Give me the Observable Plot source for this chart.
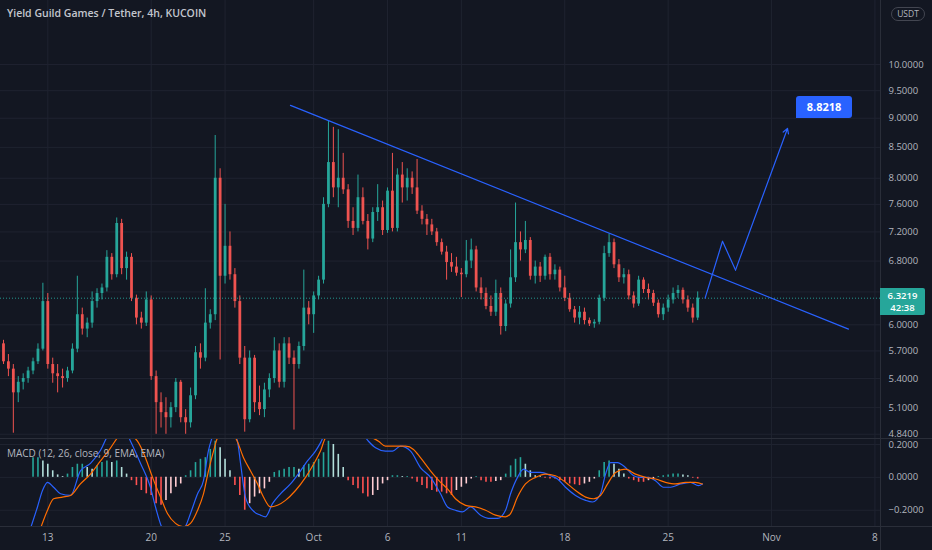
<!DOCTYPE html>
<html><head><meta charset="utf-8">
<script src="https://cdn.jsdelivr.net/npm/d3@7"></script>
<script src="https://cdn.jsdelivr.net/npm/@observablehq/plot@0.6"></script>
<style>
html,body{margin:0;padding:0;background:#131722;}
#chart{position:relative;width:932px;height:550px;background:#131722;overflow:hidden;font-family:"Open Sans",sans-serif;}
#price,#macd{position:absolute;left:0;width:932px;}
#price{top:0;}
#macd{top:438px;}
.ov{position:absolute;}
#title{left:7px;top:6px;font-size:10.5px;font-weight:600;color:#c3c6ce;white-space:nowrap;}
#macdlab{left:7px;top:446px;font-size:10px;color:#b2b5be;white-space:nowrap;}
#usdt{left:891px;top:7px;width:32px;height:12px;border:1px solid #434651;border-radius:7px;font-size:8.5px;color:#b2b5be;text-align:center;line-height:12px;}
#vsep{left:880px;top:0;width:1px;height:550px;background:#2a2e39;}
#hsep{left:0;top:438px;width:932px;height:1px;background:#2a2e39;}
#bsep{left:0;top:526px;width:932px;height:1px;background:#2a2e39;}
#tag{left:880px;width:45px;height:27px;background:#26a69a;color:#fff;font-size:9.5px;font-weight:600;text-align:center;line-height:12px;padding-top:2px;box-sizing:border-box;border-radius:0 2px 2px 0;}
#callout{background:#2962ff;color:#fff;font-size:11px;font-weight:700;text-align:center;line-height:22px;height:22px;width:56px;border-radius:3px;}
</style></head>
<body>
<div id="chart">
  <div id="price"></div>
  <div id="macd"></div>
  <div class="ov" id="vsep"></div>
  <div class="ov" id="hsep"></div>
  <div class="ov" id="bsep"></div>
  <div class="ov" id="title">Yield Guild Games / Tether, 4h, KUCOIN</div>
  <div class="ov" id="macdlab">MACD (12, 26, close, 9, EMA, EMA)</div>
  <div class="ov" id="usdt">USDT</div>
</div>
<script>
// ---------- data ----------
const firstOpen = 5.78;
const close = [5.58,5.50,5.25,5.36,5.40,5.48,5.58,5.72,6.28,5.55,
5.45,5.42,5.40,5.48,5.72,6.12,5.95,6.02,6.28,6.38,
6.45,6.85,6.62,7.32,6.70,6.85,6.32,6.08,6.02,6.30,
5.42,5.15,5.05,5.00,5.10,5.36,5.00,4.95,5.22,5.68,
5.62,6.02,6.12,8.00,6.60,7.00,6.62,6.28,5.62,4.98,
5.62,5.15,5.08,5.28,5.40,5.70,5.36,5.78,5.62,5.55,
5.75,6.20,6.12,6.35,6.55,7.60,8.25,7.85,8.00,7.82,
7.35,7.25,7.70,7.35,7.10,7.48,7.55,7.22,7.80,7.25,
8.05,7.85,8.00,7.85,7.50,7.38,7.30,7.20,7.05,6.92,
6.78,6.72,6.64,6.62,6.80,6.95,6.45,6.38,6.22,6.15,
6.38,5.98,6.25,6.58,7.05,6.95,7.08,6.60,6.72,6.60,
6.85,6.62,6.68,6.45,6.32,6.18,6.08,6.15,6.05,6.01,
6.03,6.32,6.90,7.05,6.75,6.58,6.62,6.35,6.25,6.55,
6.43,6.38,6.26,6.12,6.20,6.30,6.38,6.42,6.30,6.20,
6.08,6.3219];
const high = [5.82,5.66,5.55,5.42,5.45,5.52,5.62,5.78,6.51,6.38,
5.62,5.55,5.50,5.52,5.78,6.60,6.20,6.08,6.40,6.44,
6.50,6.94,6.90,7.40,7.38,6.92,6.90,6.36,6.15,6.40,
6.35,5.48,5.25,5.20,5.15,5.40,5.38,5.08,5.30,5.75,
5.78,6.44,6.18,8.70,8.15,7.60,7.20,6.70,6.35,5.75,
5.70,5.65,5.32,5.35,5.45,5.85,5.78,5.85,5.85,5.70,
5.80,6.68,6.28,6.40,6.60,7.70,8.95,8.84,8.80,8.40,
7.90,7.55,8.05,7.85,7.45,7.55,7.90,7.65,7.85,8.40,
8.15,8.25,8.15,8.10,8.30,7.58,7.45,7.38,7.25,7.10,
7.00,6.90,6.85,6.70,7.08,7.10,7.00,6.58,6.45,6.35,
6.55,6.45,6.30,6.95,7.62,7.20,7.35,7.12,6.80,6.78,
6.88,6.90,6.75,6.72,6.60,6.38,6.22,6.22,6.20,6.08,
6.06,6.36,7.00,7.17,7.10,6.82,6.70,6.68,6.40,6.60,
6.58,6.50,6.42,6.30,6.25,6.36,6.45,6.48,6.45,6.35,
6.25,6.40];
const low = [5.55,5.42,4.85,5.15,5.28,5.35,5.44,5.55,5.70,5.50,
5.35,5.25,5.30,5.36,5.45,5.68,5.88,5.85,5.96,6.20,
6.30,6.40,6.55,6.58,6.62,6.55,6.28,6.00,5.95,5.98,
5.38,4.84,4.90,4.84,4.90,5.05,4.95,4.84,4.90,5.18,
5.50,5.58,5.95,6.05,5.60,6.50,6.55,6.20,5.55,4.86,
4.95,5.05,5.02,5.00,5.20,5.35,5.30,5.30,5.55,4.88,
5.50,5.70,6.00,5.90,6.30,6.50,7.55,7.70,7.55,7.75,
7.25,7.15,7.20,7.30,6.95,7.05,7.35,7.15,7.18,7.20,
7.20,7.62,7.65,7.75,7.45,7.30,7.15,7.15,7.00,6.88,
6.55,6.65,6.60,6.33,6.58,6.70,6.40,6.30,6.18,6.10,
6.10,5.88,5.92,6.20,6.52,6.80,6.90,6.55,6.50,6.52,
6.55,6.55,6.55,6.40,6.28,6.15,6.02,6.00,6.00,5.98,
5.96,6.00,6.28,6.85,6.70,6.52,6.50,6.30,6.20,6.22,
6.38,6.30,6.22,6.08,6.05,6.15,6.25,6.32,6.25,6.15,
6.02,6.05];
const hist = [null,null,null,null,null,null,0.12,0.12,0.10,0.08,
0.04,0.015,0.005,0.02,0.06,0.08,0.08,0.06,0.05,0.07,
0.09,0.10,0.09,0.10,0.06,0.02,-0.02,-0.05,-0.08,-0.10,
-0.11,-0.16,-0.17,-0.14,-0.10,-0.06,-0.04,0.01,0.04,0.09,
0.11,0.12,0.17,0.22,0.18,0.11,0.04,-0.05,-0.11,-0.20,
-0.16,-0.12,-0.10,-0.07,-0.03,0.03,0.04,0.05,0.06,0.06,
0.05,0.07,0.08,0.09,0.11,0.15,0.22,0.20,0.14,0.06,
-0.02,-0.05,-0.07,-0.10,-0.12,-0.11,-0.08,-0.04,-0.02,0.01,
0.01,0.005,0.005,-0.01,-0.03,-0.05,-0.07,-0.08,-0.09,-0.09,
-0.10,-0.11,-0.08,-0.06,-0.04,-0.01,0.005,-0.02,-0.03,-0.03,
-0.025,-0.02,0.02,0.07,0.11,0.12,0.08,0.04,0.01,0.005,
-0.005,-0.01,-0.01,-0.02,-0.03,-0.04,-0.045,-0.05,-0.04,-0.03,
-0.01,0.04,0.09,0.10,0.08,0.05,0.02,-0.01,-0.02,-0.03,
-0.03,-0.02,-0.01,0.005,0.01,0.015,0.02,0.02,0.015,0.01,
-0.005,-0.01];
// MACD line & signal: [days since 13 Sep 2021, value]
const macdDays = [-1.17,-0.70,-0.36,-0.02,0.39,0.86,1.54,2.21,2.89,3.57,4.04,4.58,5.26,5.60,6.28,6.95,7.29,7.70,8.31,8.98,9.32,9.66,10.14,10.54,10.88,11.08,11.56,12.37,12.84,13.05,13.38,13.86,14.40,14.74,15.21,15.75,16.43,17.11,17.58,18.12,18.46,18.80,19.82,21.17,21.71,22.19,22.86,23.34,23.88,24.56,25.23,25.91,26.59,27.06,27.60,28.08,28.62,29.30,29.97,30.45,30.99,31.33,31.80,32.21,32.68,33.36,34.04,34.51,35.05,35.73,36.41,36.88,37.42,37.76,38.10,38.57,39.11,39.66,40.13,40.60,41.14,41.68,42.16,42.84,43.51,44.05,44.32];
const macdVals = [-0.31,-0.18,-0.08,-0.03,-0.06,-0.10,-0.11,0.04,0.085,0.165,0.25,0.30,0.28,0.22,0.085,-0.06,-0.18,-0.30,-0.36,-0.34,-0.30,-0.22,-0.10,-0.02,0.165,0.23,0.32,0.30,0.22,0.085,-0.12,-0.20,-0.23,-0.24,-0.16,-0.10,-0.04,0.04,0.10,0.16,0.21,0.27,0.32,0.28,0.22,0.18,0.16,0.16,0.19,0.16,0.06,0.0,-0.10,-0.18,-0.20,-0.21,-0.18,-0.23,-0.25,-0.25,-0.20,-0.10,0.0,0.05,0.03,0.03,0.01,-0.01,-0.06,-0.11,-0.14,-0.15,-0.10,0.02,0.09,0.09,0.06,0.01,0.0,0.0,-0.02,-0.06,-0.06,-0.04,-0.03,-0.05,-0.04];
const signalDays = [-0.49,-0.02,0.39,1.00,1.54,2.21,2.89,3.57,4.25,4.72,5.26,6.07,6.61,7.09,7.63,8.10,8.65,9.19,9.66,10.14,10.54,10.88,11.22,11.49,12.03,12.71,13.25,13.72,14.20,14.60,15.07,15.55,16.09,16.77,17.45,17.99,18.46,18.80,19.82,21.51,22.39,22.86,23.54,24.22,24.76,25.23,25.91,26.59,27.06,27.60,28.28,28.96,29.64,30.31,30.99,31.33,31.80,32.34,33.02,33.70,34.37,35.05,35.73,36.41,36.95,37.42,37.90,38.44,39.11,39.79,40.47,41.14,41.82,42.50,43.17,43.85,44.32];
const signalVals = [-0.31,-0.20,-0.13,-0.12,-0.11,-0.04,0.02,0.10,0.18,0.24,0.27,0.22,0.12,0.0,-0.12,-0.22,-0.28,-0.30,-0.28,-0.20,-0.10,0.04,0.16,0.24,0.28,0.24,0.12,0.04,-0.04,-0.12,-0.18,-0.17,-0.14,-0.08,0.0,0.08,0.16,0.24,0.30,0.26,0.22,0.19,0.19,0.19,0.17,0.12,0.04,-0.03,-0.07,-0.13,-0.17,-0.18,-0.20,-0.23,-0.24,-0.22,-0.12,-0.04,0.0,0.02,0.01,-0.03,-0.08,-0.12,-0.13,-0.11,-0.04,0.03,0.05,0.02,0.0,-0.01,-0.03,-0.04,-0.03,-0.03,-0.04];
// drawings
const trendDays = [16.43, 54.21];
const trendPrices = [9.23, 5.95];
const projDays = [44.5, 45.68, 46.56, 50.08];
const projPrices = [6.3219, 7.07, 6.68, 8.8218];
const targetLabel = "8.8218";
const countdown = "42:38";
// axes
const priceTicks = [4.84, 5.1, 5.4, 5.7, 6.0, 6.4, 6.8, 7.2, 7.6, 8.0, 8.5, 9.0, 9.5, 10.0];
const macdTicks = [0.2, 0, -0.2];
const dateTicks = ["2021-09-13","2021-09-20","2021-09-25","2021-10-01","2021-10-06","2021-10-11","2021-10-18","2021-10-25","2021-11-01","2021-11-08"];
const monthNames = ["Jan","Feb","Mar","Apr","May","Jun","Jul","Aug","Sep","Oct","Nov","Dec"];

// ---------- build ----------
const base = Date.UTC(2021, 8, 13);
const day = d => new Date(base + d * 864e5);
const xDomain = [day(-3.2025), day(56.376)];
const UP = "#26a69a", DOWN = "#ef5350", GRID = "#1f2330", TXT = "#b2b5be";
const candles = close.map((c, j) => {
  const o = j ? close[j - 1] : firstOpen;
  return {t: day(-3 + j / 3), o, h: high[j], l: low[j], c, col: c >= o ? UP : DOWN};
});
const histData = [];
hist.forEach((v, j) => {
  if (v == null) return;
  const p = hist[j - 1];
  let col;
  if (v >= 0) col = (p == null || v >= p) ? "#26a69a" : "#b2dfdb";
  else col = (p == null || v <= p) ? "#ff5252" : "#ffcdd2";
  histData.push({t: day(-3 + j / 3), v, col});
});
const macdPts = macdDays.map((d, i) => ({t: day(d), v: macdVals[i]}));
const sigPts = signalDays.map((d, i) => ({t: day(d), v: signalVals[i]}));
const trend = trendDays.map((d, i) => ({t: day(d), p: trendPrices[i]}));
const proj = projDays.map((d, i) => ({t: day(d), p: projPrices[i]}));
const dTicks = dateTicks.map(s => new Date(s + "T00:00:00Z"));
const fmtDate = d => d.getUTCDate() === 1 ? monthNames[d.getUTCMonth()] : String(d.getUTCDate());
const fmtNum = v => v.toFixed(4).replace("-", "\u2212");
const style = {background: "transparent", color: TXT, fontSize: "9.5px", fontFamily: "'Open Sans', sans-serif"};

const priceSvg = Plot.plot({
  width: 932, height: 438, marginLeft: 0, marginRight: 52, marginTop: 0, marginBottom: 0,
  style,
  x: {type: "utc", domain: xDomain, axis: null, label: null},
  y: {type: "log", domain: [4.80, 11.34], axis: null, label: null},
  color: {type: "identity"},
  marks: [
    Plot.ruleY(priceTicks, {stroke: GRID}),
    Plot.ruleX(dTicks, {stroke: GRID}),
    Plot.axisY({anchor: "right", ticks: priceTicks, tickFormat: fmtNum, tickSize: 0, tickPadding: 8, fill: TXT, label: null}),
    Plot.ruleX(candles, {x: "t", y1: "l", y2: "h", stroke: "col", strokeWidth: 1}),
    Plot.ruleX(candles, {x: "t", y1: "o", y2: "c", stroke: "col", strokeWidth: 2.8}),
    Plot.ruleY([close[close.length - 1]], {stroke: UP, strokeDasharray: "1,2", strokeOpacity: 0.9}),
    Plot.line(trend, {x: "t", y: "p", stroke: "#2962ff", strokeWidth: 1.2}),
    Plot.line(proj.slice(0, 3), {x: "t", y: "p", stroke: "#2962ff", strokeWidth: 1.2}),
    Plot.arrow([{a: proj[2], b: proj[3]}], {x1: d => d.a.t, y1: d => d.a.p, x2: d => d.b.t, y2: d => d.b.p, stroke: "#2962ff", strokeWidth: 1.2, headLength: 7})
  ]
});
document.getElementById("price").append(priceSvg);

const macdSvg = Plot.plot({
  width: 932, height: 112, marginLeft: 0, marginRight: 52, marginTop: 0, marginBottom: 24,
  style,
  x: {type: "utc", domain: xDomain, axis: null, label: null},
  y: {domain: [-0.299, 0.2366], axis: null, label: null},
  color: {type: "identity"},
  marks: [
    Plot.ruleY(macdTicks, {stroke: GRID}),
    Plot.ruleX(dTicks, {stroke: GRID}),
    Plot.axisY({anchor: "right", ticks: macdTicks, tickFormat: fmtNum, tickSize: 0, tickPadding: 8, fill: TXT, label: null}),
    Plot.axisX({anchor: "bottom", ticks: dTicks, tickFormat: fmtDate, tickSize: 0, tickPadding: 7, fill: TXT, fontSize: 10, label: null}),
    Plot.ruleX(histData, {x: "t", y1: 0, y2: "v", stroke: "col", strokeWidth: 1.6, clip: true}),
    Plot.line(macdPts, {x: "t", y: "v", stroke: "#2962ff", strokeWidth: 1.2, curve: "monotone-x", clip: true}),
    Plot.line(sigPts, {x: "t", y: "v", stroke: "#ff6d00", strokeWidth: 1.2, curve: "monotone-x", clip: true})
  ]
});
document.getElementById("macd").append(macdSvg);

// overlays positioned through the plot's own scales
const xs = priceSvg.scale("x"), ys = priceSvg.scale("y");
const chart = document.getElementById("chart");
const last = close[close.length - 1];
const tag = document.createElement("div");
tag.className = "ov"; tag.id = "tag";
tag.style.top = (ys.apply(last) - 10) + "px";
tag.innerHTML = last.toFixed(4) + "<br>" + countdown;
chart.append(tag);
const tx = xs.apply(proj[3].t), ty = ys.apply(proj[3].p);
const call = document.createElement("div");
call.className = "ov"; call.id = "callout";
call.style.left = (tx + 9) + "px";
call.style.top = (ty - 32) + "px";
call.textContent = targetLabel;
chart.append(call);
const ns = "http://www.w3.org/2000/svg";
const ptr = document.createElementNS(ns, "svg");
ptr.setAttribute("width", 932); ptr.setAttribute("height", 550);
ptr.style.cssText = "position:absolute;left:0;top:0;pointer-events:none";
const poly = document.createElementNS(ns, "polygon");
poly.setAttribute("points", `${tx + 9},${ty - 16} ${tx + 17},${ty - 10} ${tx + 21},${ty - 10} ${tx + 9},${ty - 10}`);
poly.setAttribute("fill", "#2962ff");
ptr.append(poly);
chart.append(ptr);
</script>
</body></html>
